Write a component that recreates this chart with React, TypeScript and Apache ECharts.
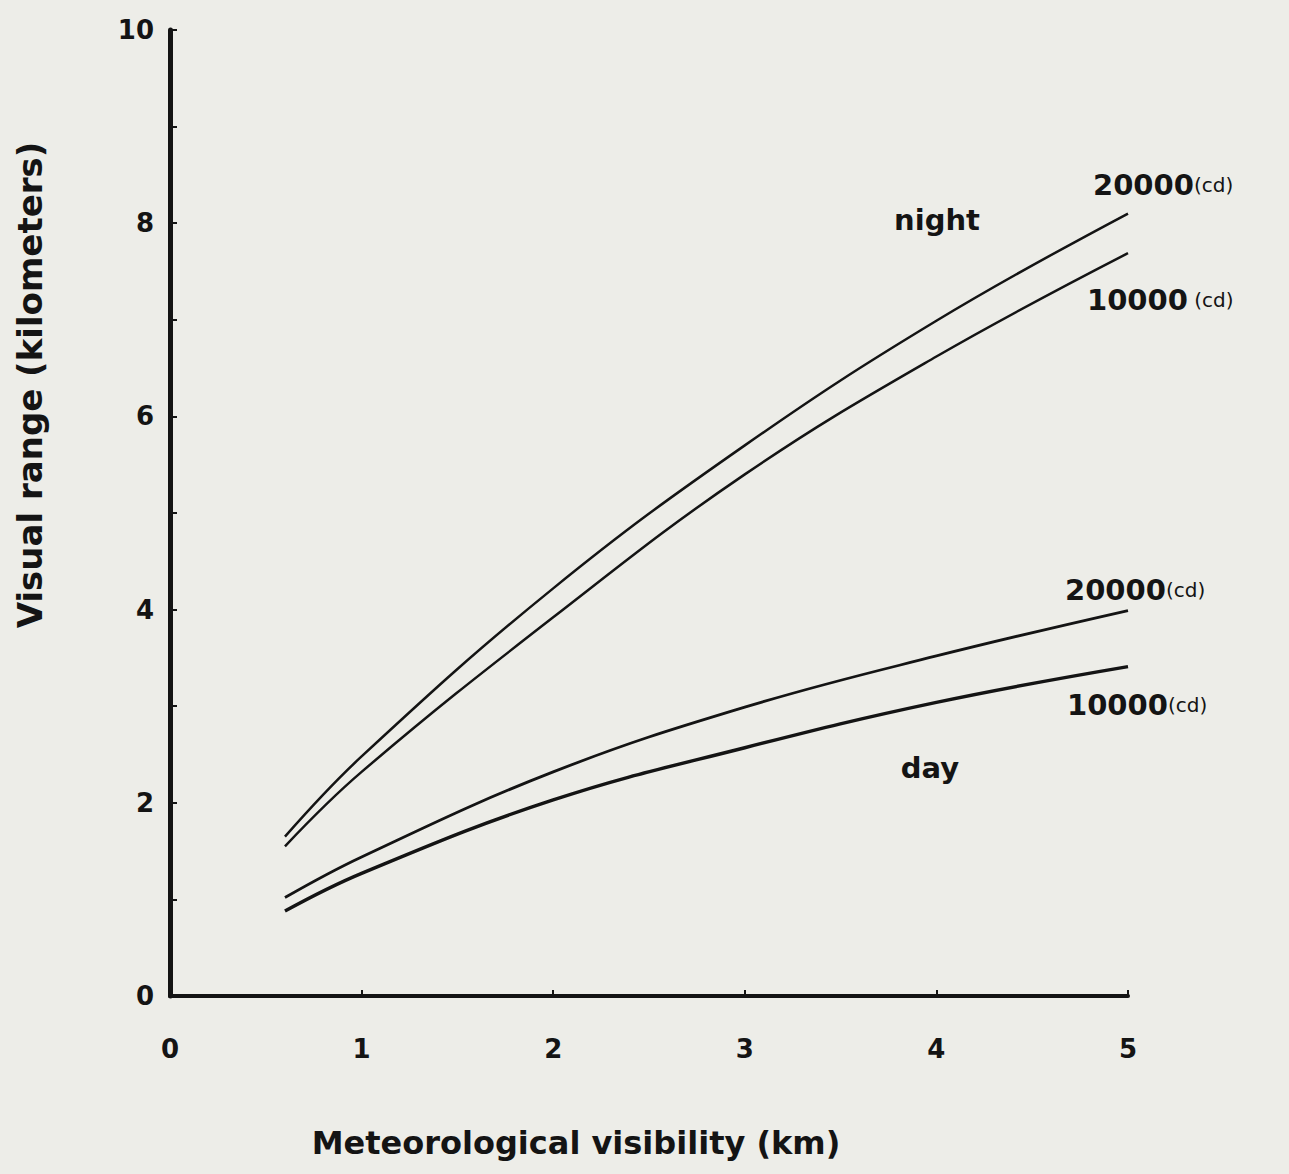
import React, { useEffect, useRef } from "react";
import * as echarts from "echarts";

// Data
const visibility = [0.6, 1, 2, 3, 4, 5];
const night20000 = [1.65, 2.48, 4.22, 5.7, 6.99, 8.1];
const night10000 = [1.55, 2.32, 3.92, 5.4, 6.62, 7.69];
const day20000 = [1.02, 1.44, 2.32, 2.99, 3.52, 3.99];
const day10000 = [0.88, 1.27, 2.03, 2.57, 3.04, 3.41];
const yLabelled = [0, 2, 4, 6, 8, 10];

const FONT = "'DejaVu Sans', 'Liberation Sans', sans-serif";
const INK = "#141414";
const PAPER = "#ededE8";

const pair = (ys: number[]) => visibility.map((x, i) => [x, ys[i]]);

export default function App() {
  const ref = useRef<HTMLDivElement>(null);
  useEffect(() => {
    if (!ref.current) return;
    document.body.style.margin = "0";
    document.body.style.background = PAPER;
    const chart = echarts.init(ref.current, undefined, { renderer: "svg" });
    const lineSeries = (name: string, ys: number[], w: number) => ({
      name,
      type: "line",
      data: pair(ys),
      smooth: 0.4,
      symbol: "none",
      lineStyle: { color: INK, width: w },
      z: 3,
    });
    const label = (x: number, y: number, num: string, sep: string) => ({
      type: "text",
      x,
      y,
      style: {
        text: `{a|${num}}{b|${sep}(cd)}`,
        rich: {
          a: { fontFamily: FONT, fontWeight: "bold", fontSize: 29, fill: INK },
          b: { fontFamily: FONT, fontSize: 20, fill: INK },
        },
        verticalAlign: "middle",
        align: "left",
      },
    });
    const plain = (x: number, y: number, text: string, size: number, rotation = 0) => ({
      type: "text",
      x,
      y,
      rotation,
      style: {
        text,
        fontFamily: FONT,
        fontWeight: "bold",
        fontSize: size,
        fill: INK,
        align: "center",
        verticalAlign: "middle",
      },
    });
    chart.setOption({
      animation: false,
      backgroundColor: PAPER,
      grid: { left: 170, right: 161, top: 30, bottom: 178 },
      xAxis: {
        type: "value",
        min: 0,
        max: 5,
        interval: 1,
        axisLine: { lineStyle: { color: INK, width: 4 } },
        axisTick: { inside: true, length: 6, lineStyle: { color: INK, width: 2 } },
        splitLine: { show: false },
        axisLabel: {
          margin: 40,
          fontFamily: FONT,
          fontWeight: "bold",
          fontSize: 26,
          color: INK,
        },
      },
      yAxis: {
        type: "value",
        min: 0,
        max: 10,
        interval: 1,
        axisLine: { show: true, lineStyle: { color: INK, width: 5 } },
        axisTick: { show: true, inside: true, length: 7, lineStyle: { color: INK, width: 2 } },
        splitLine: { show: false },
        axisLabel: {
          margin: 16,
          fontFamily: FONT,
          fontWeight: "bold",
          fontSize: 26,
          color: INK,
          formatter: (v: number) => (yLabelled.includes(v) ? String(v) : ""),
        },
      },
      series: [
        lineSeries("night 20000 cd", night20000, 2.5),
        lineSeries("night 10000 cd", night10000, 2.5),
        lineSeries("day 20000 cd", day20000, 2.8),
        lineSeries("day 10000 cd", day10000, 3.4),
      ],
      graphic: [
        plain(30, 385, "Visual range (kilometers)", 34, Math.PI / 2),
        plain(576, 1143, "Meteorological visibility (km)", 32),
        plain(937, 220, "night", 29),
        plain(930, 768, "day", 29),
        label(1093, 185, "20000", ""),
        label(1087, 300, "10000", " "),
        label(1065, 590, "20000", ""),
        label(1067, 705, "10000", ""),
      ],
    });
    return () => chart.dispose();
  }, []);
  return <div ref={ref} style={{ width: 1289, height: 1174 }} />;
}
